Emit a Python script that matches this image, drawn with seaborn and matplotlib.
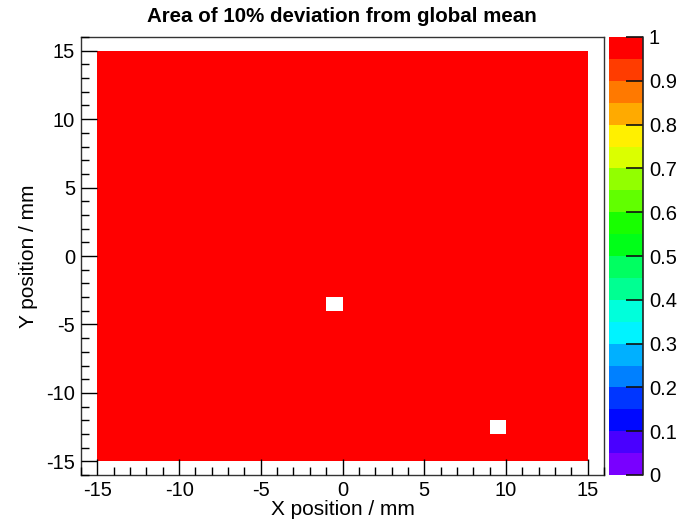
import numpy as np
import pandas as pd
import matplotlib
matplotlib.use("Agg")
import matplotlib.pyplot as plt
from matplotlib.colors import ListedColormap
from matplotlib.ticker import FixedLocator, FormatStrFormatter
import seaborn as sns

# ---- data ----
x_bin_low = np.arange(-15, 15)          # 1 mm bins, lower edges
y_bin_low = np.arange(-15, 15)
fraction = np.ones((len(y_bin_low), len(x_bin_low)))   # fraction within 10% of mean
empty_x = [-1, 9]                        # lower edges of empty (white) bins
empty_y = [-4, -13]
for ex, ey in zip(empty_x, empty_y):
    fraction[list(y_bin_low).index(ey), list(x_bin_low).index(ex)] = np.nan

title = "Area of 10% deviation from global mean"
xlabel = "X position / mm"
ylabel = "Y position / mm"
major_ticks = [-15, -10, -5, 0, 5, 10, 15]
cbar_ticks = [0, 0.1, 0.2, 0.3, 0.4, 0.5, 0.6, 0.7, 0.8, 0.9, 1.0]
palette = ["#7900ff", "#4900ff", "#0008ff", "#0036ff", "#0080ff", "#00b0ff",
           "#00f3ff", "#00ffdb", "#00ff92", "#00ff61", "#00ff18", "#18ff00",
           "#61ff00", "#92ff00", "#dbff00", "#fff000", "#ffaa00", "#ff7900",
           "#ff3c00", "#ff0000"]

# ---- plot ----
sns.set_theme(style="white")
plt.rcParams["font.family"] = ["Liberation Sans", "DejaVu Sans"]
plt.rcParams["text.color"] = "black"
plt.rcParams["axes.labelcolor"] = "black"

df = pd.DataFrame(fraction[::-1], index=y_bin_low[::-1], columns=x_bin_low)

fig = plt.figure(figsize=(6.83, 5.2), dpi=100)
ax = fig.add_axes([81/683, 45/520, 523/683, 438/520])
cax = fig.add_axes([609/683, 45/520, 34/683, 438/520])

cmap = ListedColormap(palette)
sns.heatmap(df, ax=ax, cmap=cmap, vmin=0, vmax=1, cbar=True, cbar_ax=cax,
            xticklabels=False, yticklabels=False, square=False,
            cbar_kws={"ticks": cbar_ticks})

x0 = x_bin_low[0]
y_top = y_bin_low[-1] + 1
# map data coords -> heatmap cell coords
ax.set_xlim(-16 - x0, 16 - x0)
ax.set_ylim(y_top - (-16), y_top - 16)

ax.xaxis.set_major_locator(FixedLocator([v - x0 for v in major_ticks]))
ax.xaxis.set_minor_locator(FixedLocator([v - x0 for v in range(-16, 17)]))
ax.set_xticklabels([str(v) for v in major_ticks])
ax.yaxis.set_major_locator(FixedLocator([y_top - v for v in major_ticks]))
ax.yaxis.set_minor_locator(FixedLocator([y_top - v for v in range(-16, 17)]))
ax.set_yticklabels([str(v) for v in major_ticks])
ax.set_axisbelow(False)

ax.tick_params(axis="x", which="major", pad=4.5)
ax.tick_params(axis="y", which="major", pad=4.3)
ax.tick_params(axis="both", which="major", direction="in", length=11.5, width=1,
               color="black", labelsize=14.5, labelcolor="black",
               bottom=True, left=True, top=False, right=False)
ax.tick_params(axis="both", which="minor", direction="in", length=6, width=1,
               color="black", bottom=True, left=True, top=False, right=False)

for s in ax.spines.values():
    s.set_visible(True)
    s.set_color("#333333")
    s.set_linewidth(1)

ax.set_xlabel(xlabel, fontsize=15)
ax.set_ylabel(ylabel, fontsize=15)
ax.xaxis.set_label_coords(0.5, -25 / 438)
ax.yaxis.set_label_coords(-43 / 523, 0.5)
fig.text(0.5, 1 - 17/520, title, ha="center", va="center",
         fontsize=14.8, fontweight="bold")

cbar = ax.collections[0].colorbar
cbar.outline.set_visible(False)
cax.set_axisbelow(False)
cax.yaxis.set_major_formatter(FormatStrFormatter("%g"))
cax.tick_params(axis="y", which="major", direction="in", length=12, width=1.2,
                color="#111111", labelsize=14.5, labelcolor="black", pad=4.3,
                right=True, left=False)
cax.plot([1, 1], [0, 1], transform=cax.transAxes, color="#222222", lw=1.2,
         clip_on=False, zorder=5)

fig.savefig("out.png", dpi=100)
